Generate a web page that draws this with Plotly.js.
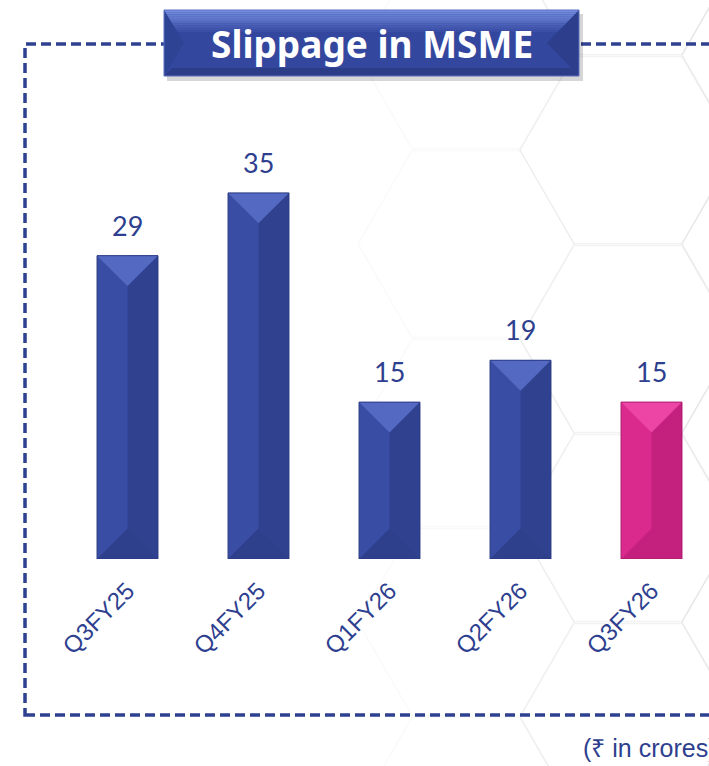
<!DOCTYPE html>
<html>
<head>
<meta charset="utf-8">
<script src="https://cdn.plot.ly/plotly-3.0.1.min.js"></script>
<style>html,body{margin:0;padding:0;background:#fff;}#chart{width:709px;height:766px;}</style>
</head>
<body>
<div id="chart"></div>
<script>
// ---- data ----
const categories = ['Q3FY25', 'Q4FY25', 'Q1FY26', 'Q2FY26', 'Q3FY26'];
const values = [29, 35, 15, 19, 15];
const highlight = [false, false, false, false, true];
const chartTitle = 'Slippage in MSME';
const unitNote = '(₹ in crores)';

// ---- styles ----
const BLUE = {main:'#3A4DA4', right:'#30428F', top:'#5469C1', bottom:'#2E3F8C', line:'#2A3A84'};
const PINK = {main:'#DA2A8E', right:'#C4207E', top:'#EC45A5', bottom:'#C4217F', line:'#A91A6C'};
const TEXT = '#2E3F8F';

const W = 709, H = 766;
const M = {l:62, r:0, t:60, b:207};
const PW = W - M.l - M.r, PH = H - M.t - M.b;
const XR = [-0.5, -0.5 + PW / 131];
const YR = [0, PH / 10.46];
const BW = 0.465;

const px = x => (x - M.l) / PW;
const py = y => (M.t + PH - y) / PH;

const idx = categories.map((c, i) => i);
const shapes = [];

// faint honeycomb background
function hexPath(cx, cy, r) {
  const pts = [];
  for (let k = 0; k < 6; k++) {
    const a = Math.PI / 3 * k;
    pts.push([cx + r * Math.cos(a), cy + r * Math.sin(a)]);
  }
  return 'M' + pts.map(p => px(p[0]).toFixed(4) + ',' + py(p[1]).toFixed(4)).join(' L') + ' Z';
}
const hexCols = [
  {cx: 466, y0: 55, op: 0.022},
  {cx: 628, y0: 150, op: 0.05},
  {cx: 790, y0: 55, op: 0.05}
];
hexCols.forEach(col => {
  for (let cy = col.y0 - 189; cy < H + 189; cy += 189) {
    shapes.push({type:'path', xref:'paper', yref:'paper', layer:'below',
      path: hexPath(col.cx, cy, 108), line:{color:'rgba(0,0,0,' + col.op + ')', width:1.5}});
  }
});

// dashed frame
shapes.push({type:'rect', xref:'paper', yref:'paper', layer:'below',
  x0: px(25), x1: px(760), y0: py(715), y1: py(44),
  line:{color:'#2E4090', width:3.5, dash:'10px,5px'}, fillcolor:'rgba(0,0,0,0)'});

// bar bevel overlays derived from data
const dy = (BW / 2 * 131) / 10.46;
values.forEach((v, i) => {
  const c = highlight[i] ? PINK : BLUE;
  const xl = i - BW / 2, xr = i + BW / 2;
  shapes.push({type:'rect', xref:'x', yref:'y', x0:i, x1:xr, y0:0, y1:v,
    fillcolor:c.right, line:{width:0}});
  shapes.push({type:'path', xref:'x', yref:'y',
    path:`M${xl},${v} L${xr},${v} L${i},${v - dy} Z`, fillcolor:c.top, line:{width:0}});
  shapes.push({type:'path', xref:'x', yref:'y',
    path:`M${xl},0 L${xr},0 L${i},${dy} Z`, fillcolor:c.bottom, line:{width:0}});
  shapes.push({type:'rect', xref:'x', yref:'y', x0:xl, x1:xr, y0:0, y1:v,
    fillcolor:'rgba(0,0,0,0)', line:{color:c.line, width:1}});
});

// title box (beveled, gradient)
const bx0 = 164, bx1 = 579, by0 = 10, by1 = 76, d = 20;
const P = (x, y) => px(x).toFixed(4) + ',' + py(y).toFixed(4);
shapes.push({type:'rect', xref:'paper', yref:'paper', x0:px(bx0 + 3), x1:px(bx1 + 4), y0:py(by1 + 5), y1:py(by0 + 4),
  fillcolor:'rgba(0,0,0,0.16)', line:{width:0}});
shapes.push({type:'rect', xref:'paper', yref:'paper', x0:px(bx0), x1:px(bx1), y0:py(by1), y1:py(by0),
  fillcolor:'#34479E', line:{width:0}});
// top gradient band
const gTop = [0x74, 0x8D, 0xDE], gBot = [0x3A, 0x4E, 0xA6];
const nStr = 10;
for (let k = 0; k < nStr; k++) {
  const t = k / (nStr - 1);
  const col = 'rgb(' + gTop.map((a, j) => Math.round(a + (gBot[j] - a) * t)).join(',') + ')';
  const y0 = by0 + k * 2.2, y1 = y0 + 2.3;
  shapes.push({type:'rect', xref:'paper', yref:'paper', x0:px(bx0), x1:px(bx1), y0:py(y1), y1:py(y0),
    fillcolor:col, line:{width:0}});
}
shapes.push({type:'path', xref:'paper', yref:'paper', fillcolor:'#2C3D88', line:{width:0},
  path:`M${P(bx0,by1)} L${P(bx1,by1)} L${P(bx1-8,by1-8)} L${P(bx0+8,by1-8)} Z`});
shapes.push({type:'path', xref:'paper', yref:'paper', fillcolor:'#2F4394', line:{width:0},
  path:`M${P(bx0,by0)} L${P(bx0+d,(by0+by1)/2)} L${P(bx0,by1)} Z`});
shapes.push({type:'path', xref:'paper', yref:'paper', fillcolor:'#2C3E8C', line:{width:0},
  path:`M${P(bx1,by0)} L${P(bx1-d-12,(by0+by1)/2)} L${P(bx1,by1)} Z`});
shapes.push({type:'rect', xref:'paper', yref:'paper', x0:px(bx0), x1:px(bx1), y0:py(by1), y1:py(by0),
  fillcolor:'rgba(0,0,0,0)', line:{color:'#5B6FBF', width:1}});

const annotations = values.map((v, i) => ({
  x: i, y: v, xref:'x', yref:'y', yanchor:'bottom', yshift: 12, showarrow:false,
  text: String(v), font:{family:'Lato, Noto Sans, sans-serif', size:27, color:TEXT}
}));
annotations.push({xref:'paper', yref:'paper', x:px(371.5), y:py(44), xanchor:'center', yanchor:'middle',
  showarrow:false, text: chartTitle, font:{family:'Noto Sans, Open Sans, sans-serif', size:37, color:'#FFFFFF', weight:700}});
annotations.push({xref:'paper', yref:'paper', x:px(581), y:py(748), xanchor:'left', yanchor:'middle',
  showarrow:false, text: unitNote, font:{family:'Liberation Sans, Arial, sans-serif', size:25, color:TEXT}});

const trace = {
  type:'bar', x: idx, y: values, width: BW,
  marker:{color: values.map((v, i) => highlight[i] ? PINK.main : BLUE.main), line:{width:0}},
  hoverinfo:'none'
};

const layout = {
  width: W, height: H, margin: M,
  paper_bgcolor:'#FFFFFF', plot_bgcolor:'rgba(0,0,0,0)',
  showlegend:false,
  xaxis:{range: XR, tickvals: idx, ticktext: categories, tickangle:-45, ticks:'', showgrid:false,
    zeroline:false, showline:false, fixedrange:true, ticklabelstandoff: 12,
    tickfont:{family:'Liberation Sans, Arial, sans-serif', size:24, color:TEXT}},
  yaxis:{range: YR, visible:false, fixedrange:true},
  shapes, annotations
};

Plotly.newPlot('chart', [trace], layout, {displayModeBar:false, staticPlot:true});
</script>
</body>
</html>
